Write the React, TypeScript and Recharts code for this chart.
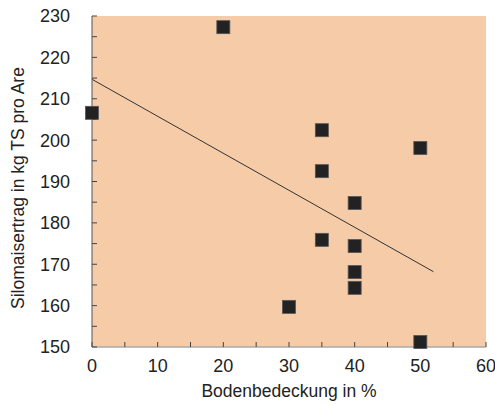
import React from 'react';
import { ScatterChart, Scatter, XAxis, YAxis, CartesianGrid, ReferenceLine } from 'recharts';

const coverage = [0, 20, 35, 35, 50, 40, 35, 40, 40, 40, 30, 50];
const yieldValues = [206.6, 227.3, 202.4, 192.5, 198.1, 184.8, 175.9, 174.4, 168.1, 164.3, 159.7, 151.2];
const xTicks = [0, 5, 10, 15, 20, 25, 30, 35, 40, 45, 50, 55, 60];
const yTicks = [150, 155, 160, 165, 170, 175, 180, 185, 190, 195, 200, 205, 210, 215, 220, 225, 230];
const trendStart = { x: 0, y: 214.7 };
const trendEnd = { x: 52, y: 168.2 };

const data = coverage.map((x, i) => ({ x, y: yieldValues[i] }));

const FONT = '"Liberation Sans", Arial, sans-serif';

const SquareShape = (props: any) => {
  const { cx, cy } = props;
  const s = 13;
  return <rect x={cx - s / 2} y={cy - s / 2} width={s} height={s} fill="#222" stroke="#555" strokeWidth={0.8} />;
};

const fmt10 = (v: number) => (v % 10 === 0 ? String(v) : '');

export default function App() {
  return (
    <div style={{ position: 'absolute', left: 0, top: 0, width: 495, height: 405, background: '#fff' }}>
      <ScatterChart width={495} height={405} margin={{ top: 16, right: 9, bottom: 0, left: 0 }}>
        <CartesianGrid horizontal={false} vertical={false} fill="#F5CBA8" stroke="none" xAxisId="b" yAxisId="l" />
        <XAxis
          xAxisId="b"
          type="number"
          dataKey="x"
          domain={[0, 60]}
          ticks={xTicks}
          tickFormatter={fmt10}
          height={58}
          tickSize={-5}
          tickMargin={17}
          interval={0}
          axisLine={{ stroke: '#aaa', strokeWidth: 1.5 }}
          tickLine={{ stroke: '#444' }}
          tick={{ fill: '#222', fontSize: 18, fontFamily: FONT }}
          label={{
            content: (p: any) => {
              const vb = p.viewBox;
              return (
                <text x={vb.x + vb.width / 2} y={397} textAnchor="middle" fill="#222" fontSize={17.5} fontFamily={FONT}>
                  Bodenbedeckung in %
                </text>
              );
            },
          }}
        />
        <XAxis
          xAxisId="t"
          orientation="top"
          type="number"
          dataKey="x"
          domain={[0, 60]}
          ticks={xTicks}
          height={0}
          tickSize={-5}
          tick={false}
          interval={0}
          axisLine={{ stroke: '#aaa', strokeWidth: 1.5 }}
          tickLine={{ stroke: '#555' }}
        />
        <YAxis
          yAxisId="l"
          type="number"
          dataKey="y"
          domain={[150, 230]}
          ticks={yTicks}
          tickFormatter={fmt10}
          width={92}
          tickSize={-5}
          tickMargin={27}
          interval={0}
          axisLine={{ stroke: '#555' }}
          tickLine={{ stroke: '#444' }}
          tick={{ fill: '#222', fontSize: 18, fontFamily: FONT }}
          label={{
            content: () => (
              <text
                x={18}
                y={188}
                textAnchor="middle"
                dominantBaseline="central"
                transform="rotate(-90 18 188)"
                fill="#222"
                fontSize={17.5}
                fontFamily={FONT}
              >
                Silomaisertrag in kg TS pro Are
              </text>
            ),
          }}
        />
        <YAxis
          yAxisId="r"
          orientation="right"
          type="number"
          dataKey="y"
          domain={[150, 230]}
          ticks={yTicks}
          width={0}
          tickSize={-5}
          tick={false}
          interval={0}
          axisLine={{ stroke: '#6a5e55', strokeWidth: 1.2 }}
          tickLine={{ stroke: '#555' }}
        />
        <ReferenceLine
          xAxisId="b"
          yAxisId="l"
          segment={[trendStart, trendEnd]}
          stroke="#333"
          strokeWidth={1}
          ifOverflow="visible"
        />
        <Scatter xAxisId="b" yAxisId="l" data={data} shape={SquareShape} isAnimationActive={false} />
      </ScatterChart>
    </div>
  );
}
